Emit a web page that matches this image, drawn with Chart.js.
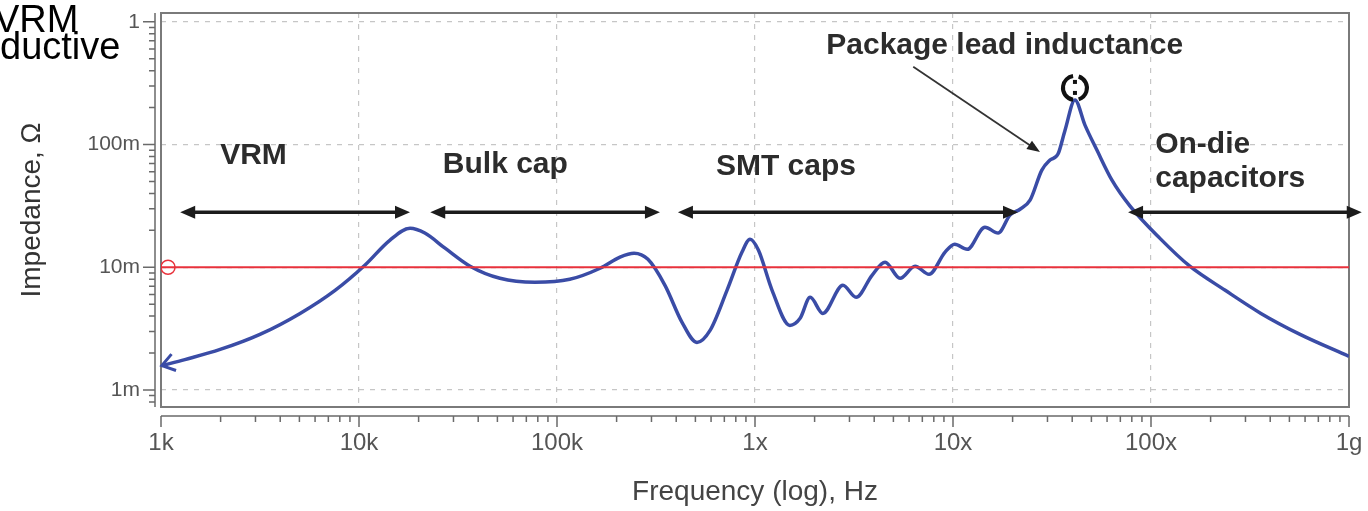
<!DOCTYPE html>
<html>
<head>
<meta charset="utf-8">
<title>PDN impedance</title>
<style>
  html, body { margin: 0; padding: 0; background: #fff; }
  #wrap { width: 1368px; height: 511px; }
</style>
<script src="https://cdn.jsdelivr.net/npm/chart.js@4.4.1/dist/chart.umd.min.js"></script>
</head>
<body>
<div id="wrap"><canvas id="impedance-chart" width="1368" height="511"></canvas></div>
<script>
// PDN impedance sweep, frequency in Hz, impedance in ohm
const freqHz = [
    1.01e3, 1.32e3, 1.99e3, 3.16e3, 5.04e3, 7.57e3,
    1.07e4, 1.43e4, 1.81e4, 2.15e4, 2.72e4, 3.64e4,
    5.15e4, 7.74e4, 1.16e5, 1.65e5, 2.08e5, 2.45e5, 2.88e5,
    3.51e5, 4.28e5, 5.09e5, 5.93e5, 7.22e5, 8.60e5, 9.44e5, 1.04e6,
    1.22e6, 1.50e6, 1.69e6, 1.90e6, 2.20e6, 2.78e6, 3.24e6, 3.90e6,
    4.54e6, 5.40e6, 6.43e6, 7.57e6, 9.12e6, 1.02e7, 1.18e7, 1.45e7,
    1.69e7, 1.94e7, 2.18e7, 2.45e7, 2.81e7, 3.09e7, 3.39e7,
    3.68e7, 4.13e7, 4.64e7, 5.33e7, 6.35e7, 7.84e7, 1.11e8,
    1.57e8, 2.37e8, 3.59e8, 5.66e8, 1.0e9
];
const impedanceOhm = [
    1.58e-3, 1.77e-3, 2.14e-3, 2.84e-3, 4.21e-3, 6.49e-3,
    1.04e-2, 1.66e-2, 2.08e-2, 1.90e-2, 1.43e-2, 1.02e-2,
    8.13e-3, 7.55e-3, 7.98e-3, 9.82e-3, 1.21e-2, 1.30e-2, 1.16e-2,
    7.13e-3, 3.56e-3, 2.44e-3, 3.06e-3, 6.49e-3, 1.33e-2, 1.69e-2, 1.38e-2,
    6.49e-3, 3.36e-3, 3.84e-3, 5.69e-3, 4.21e-3, 7.13e-3, 5.69e-3, 8.61e-3,
    1.10e-2, 8.13e-3, 1.02e-2, 8.77e-3, 1.33e-2, 1.54e-2, 1.40e-2, 2.12e-2,
    1.90e-2, 2.66e-2, 2.97e-2, 3.52e-2, 6.19e-2, 7.47e-2, 8.36e-2,
    0.131, 0.231, 0.144, 9.02e-2, 5.13e-2, 3.15e-2, 1.72e-2,
    1.02e-2, 6.49e-3, 4.21e-3, 2.84e-3, 1.88e-3
];
const targetOhm = 0.01;

const xTickValues = [1e3, 1e4, 1e5, 1e6, 1e7, 1e8, 1e9];
const xTickLabels = ['1k', '10k', '100k', '1x', '10x', '100x', '1g'];
const yTickValues = [1, 0.1, 0.01, 0.001];
const yTickLabels = ['1', '100m', '10m', '1m'];

// frequency bands covered by each decoupling stage
const bandFrom = [1.25e3, 2.29e4, 4.08e5, 7.66e7];
const bandTo = [1.81e4, 3.31e5, 2.13e7, 1.16e9];
const bandArrowOhm = 0.0281;
const bandNames = [['VRM'], ['Bulk cap'], ['SMT caps'], ['On-die', 'capacitors']];
const bandNameFreq = [1.99e3, 2.65e4, 6.35e5, 1.05e8];
const bandNameOhm = [0.0690, 0.0585, 0.0564, 0.0853];

const pkgText = 'Package lead inductance';
const pkgTextAt = [2.29e6, 0.548];
const pkgArrowFrom = [6.3e6, 0.43];
const pkgArrowTo = [2.75e7, 0.0868];

Chart.defaults.font.family = 'Arial, "Liberation Sans", sans-serif';

function arrowHead(ctx, tipX, tipY, dirX, dirY, len, half) {
    const n = Math.hypot(dirX, dirY);
    const ux = dirX / n, uy = dirY / n;
    const bx = tipX - ux * len, by = tipY - uy * len;
    ctx.beginPath();
    ctx.moveTo(tipX, tipY);
    ctx.lineTo(bx - uy * half, by + ux * half);
    ctx.lineTo(bx + uy * half, by - ux * half);
    ctx.closePath();
    ctx.fill();
}

const decorations = {
    id: 'decorations',
    beforeDatasetsDraw(chart) {
        const { ctx, chartArea: a, scales: { x, y } } = chart;
        ctx.save();
        // box round the plot
        ctx.strokeStyle = '#7a7a7a';
        ctx.lineWidth = 2;
        ctx.strokeRect(a.left, a.top, a.right - a.left, a.bottom - a.top);

        // detached axis lines with decade and minor ticks
        ctx.strokeStyle = '#6a6a6a';
        ctx.lineWidth = 1.5;
        const ax = a.left - 6;
        ctx.beginPath();
        ctx.moveTo(ax, a.top);
        ctx.lineTo(ax, a.bottom);
        for (let d = -4; d <= 0; d++) {
            for (let k = 1; k <= 9; k++) {
                const v = k * Math.pow(10, d);
                if (v < y.min || v > y.max) continue;
                const py = y.getPixelForValue(v);
                ctx.moveTo(ax - (k === 1 ? 12 : 6), py);
                ctx.lineTo(ax, py);
            }
        }
        const ay = a.bottom + 9;
        ctx.moveTo(a.left, ay);
        ctx.lineTo(a.right, ay);
        for (let d = 3; d <= 9; d++) {
            for (let k = 1; k <= 9; k++) {
                const v = k * Math.pow(10, d);
                if (v < x.min || v > x.max) continue;
                const px = x.getPixelForValue(v);
                ctx.moveTo(px, ay);
                ctx.lineTo(px, ay + (k === 1 ? 11 : 6));
            }
        }
        ctx.stroke();
        ctx.restore();
    },
    afterDatasetsDraw(chart) {
        const { ctx, scales: { x, y } } = chart;
        const meta = chart.getDatasetMeta(1);
        ctx.save();

        // open arrow at the low-frequency end of the curve
        const p0 = meta.data[0], p2 = meta.data[2];
        const ang = Math.atan2(p2.y - p0.y, p2.x - p0.x);
        ctx.strokeStyle = '#3a4ca6';
        ctx.lineWidth = 3;
        ctx.beginPath();
        ctx.moveTo(p0.x + 15 * Math.cos(ang - 0.6), p0.y + 15 * Math.sin(ang - 0.6));
        ctx.lineTo(p0.x, p0.y);
        ctx.lineTo(p0.x + 15 * Math.cos(ang + 0.6), p0.y + 15 * Math.sin(ang + 0.6));
        ctx.stroke();

        // marker on the package resonance peak
        let peak = 0;
        impedanceOhm.forEach((v, i) => { if (v > impedanceOhm[peak]) peak = i; });
        const pk = meta.data[peak];
        ctx.strokeStyle = '#111';
        ctx.lineWidth = 4;
        ctx.beginPath();
        ctx.arc(pk.x, pk.y - 12, 12, Math.PI * 0.55, Math.PI * 1.45);
        ctx.stroke();
        ctx.beginPath();
        ctx.arc(pk.x, pk.y - 12, 12, -Math.PI * 0.4, Math.PI * 0.4);
        ctx.stroke();
        ctx.fillStyle = '#111';
        ctx.fillRect(pk.x - 2, pk.y - 20, 4, 4);
        ctx.fillRect(pk.x - 2, pk.y - 9, 4, 4);

        // band arrows
        ctx.strokeStyle = '#1c1c1c';
        ctx.fillStyle = '#1c1c1c';
        ctx.lineWidth = 3.5;
        const by = y.getPixelForValue(bandArrowOhm);
        bandFrom.forEach((f, i) => {
            const x1 = x.getPixelForValue(f), x2 = x.getPixelForValue(bandTo[i]);
            ctx.beginPath();
            ctx.moveTo(x1 + 8, by);
            ctx.lineTo(x2 - 8, by);
            ctx.stroke();
            arrowHead(ctx, x1, by, -1, 0, 15, 6.5);
            arrowHead(ctx, x2, by, 1, 0, 15, 6.5);
        });

        // band names
        ctx.fillStyle = '#2c2c2c';
        ctx.font = 'bold 30px Arial, "Liberation Sans", sans-serif';
        ctx.textBaseline = 'alphabetic';
        ctx.textAlign = 'left';
        bandNames.forEach((lines, i) => {
            const tx = x.getPixelForValue(bandNameFreq[i]);
            const ty = y.getPixelForValue(bandNameOhm[i]);
            lines.forEach((t, j) => ctx.fillText(t, tx, ty + j * 34));
        });
        ctx.fillText(pkgText, x.getPixelForValue(pkgTextAt[0]), y.getPixelForValue(pkgTextAt[1]));

        // pointer to the package resonance
        const sx = x.getPixelForValue(pkgArrowFrom[0]), sy = y.getPixelForValue(pkgArrowFrom[1]);
        const ex = x.getPixelForValue(pkgArrowTo[0]), ey = y.getPixelForValue(pkgArrowTo[1]);
        ctx.strokeStyle = '#333';
        ctx.lineWidth = 1.8;
        ctx.beginPath();
        ctx.moveTo(sx, sy);
        ctx.lineTo(ex - (ex - sx) * 0.08, ey - (ey - sy) * 0.08);
        ctx.stroke();
        ctx.fillStyle = '#222';
        arrowHead(ctx, ex, ey, ex - sx, ey - sy, 13, 5);
        ctx.restore();
    },
    afterDraw(chart) {
        // caption spilling in from the neighbouring panel
        const { ctx } = chart;
        ctx.save();
        ctx.fillStyle = '#000';
        ctx.font = '38px Arial, "Liberation Sans", sans-serif';
        ctx.textAlign = 'left';
        ctx.textBaseline = 'alphabetic';
        ctx.fillText('VRM', -6, 32);
        ctx.fillText('ductive', 0, 59);
        ctx.restore();
    }
};

const ctx = document.getElementById('impedance-chart');
new Chart(ctx, {
    type: 'line',
    data: {
        datasets: [
            {
                label: 'Target impedance',
                data: [
                    { x: 1e3, y: targetOhm },
                    { x: 1.085e3, y: targetOhm },
                    { x: 1e9, y: targetOhm }
                ],
                borderColor: '#e8323c',
                borderWidth: 2,
                pointRadius: [0, 7, 0],
                pointBorderColor: '#e8323c',
                pointBackgroundColor: 'rgba(0,0,0,0)',
                pointBorderWidth: 1.5
            },
            {
                label: 'Impedance',
                data: freqHz.map((f, i) => ({ x: f, y: impedanceOhm[i] })),
                borderColor: '#3a4ca6',
                borderWidth: 3.5,
                pointRadius: 0,
                cubicInterpolationMode: 'monotone'
            }
        ]
    },
    options: {
        responsive: false,
        animation: false,
        layout: { padding: { top: 13, right: 19, left: 0, bottom: 0 } },
        plugins: {
            legend: { display: false },
            tooltip: { enabled: false }
        },
        scales: {
            x: {
                type: 'logarithmic',
                min: 1e3,
                max: 1e9,
                afterBuildTicks: (s) => { s.ticks = xTickValues.map((v) => ({ value: v })); },
                afterFit: (s) => {
                    s.height = 104;
                    s.paddingLeft = 0;
                    s.paddingRight = 0;
                },
                grid: { color: '#c6c6c6', lineWidth: 1.2, drawTicks: false },
                border: { display: false, dash: [5, 6] },
                ticks: {
                    callback: (v, i) => xTickLabels[i],
                    color: '#555',
                    font: { size: 24, lineHeight: 1 },
                    padding: 24,
                    maxRotation: 0,
                    autoSkip: false
                },
                title: {
                    display: true,
                    text: 'Frequency (log), Hz',
                    color: '#444',
                    font: { size: 28 },
                    padding: { top: 0, bottom: 2 }
                }
            },
            y: {
                type: 'logarithmic',
                min: 0.000727,
                max: 1.18,
                afterBuildTicks: (s) => { s.ticks = yTickValues.map((v) => ({ value: v })); },
                afterFit: (s) => {
                    s.width = 161;
                    s.paddingTop = 0;
                    s.paddingBottom = 0;
                },
                grid: { color: '#c6c6c6', lineWidth: 1.2, drawTicks: false },
                border: { display: false, dash: [5, 6] },
                ticks: {
                    callback: (v, i) => yTickLabels[i],
                    color: '#555',
                    font: { size: 21, lineHeight: 1 },
                    padding: 21,
                    autoSkip: false
                },
                title: {
                    display: true,
                    text: 'Impedance, Ω',
                    color: '#333',
                    font: { size: 28 },
                    padding: { top: 15, bottom: 0 }
                }
            }
        }
    },
    plugins: [decorations]
});
</script>
</body>
</html>
